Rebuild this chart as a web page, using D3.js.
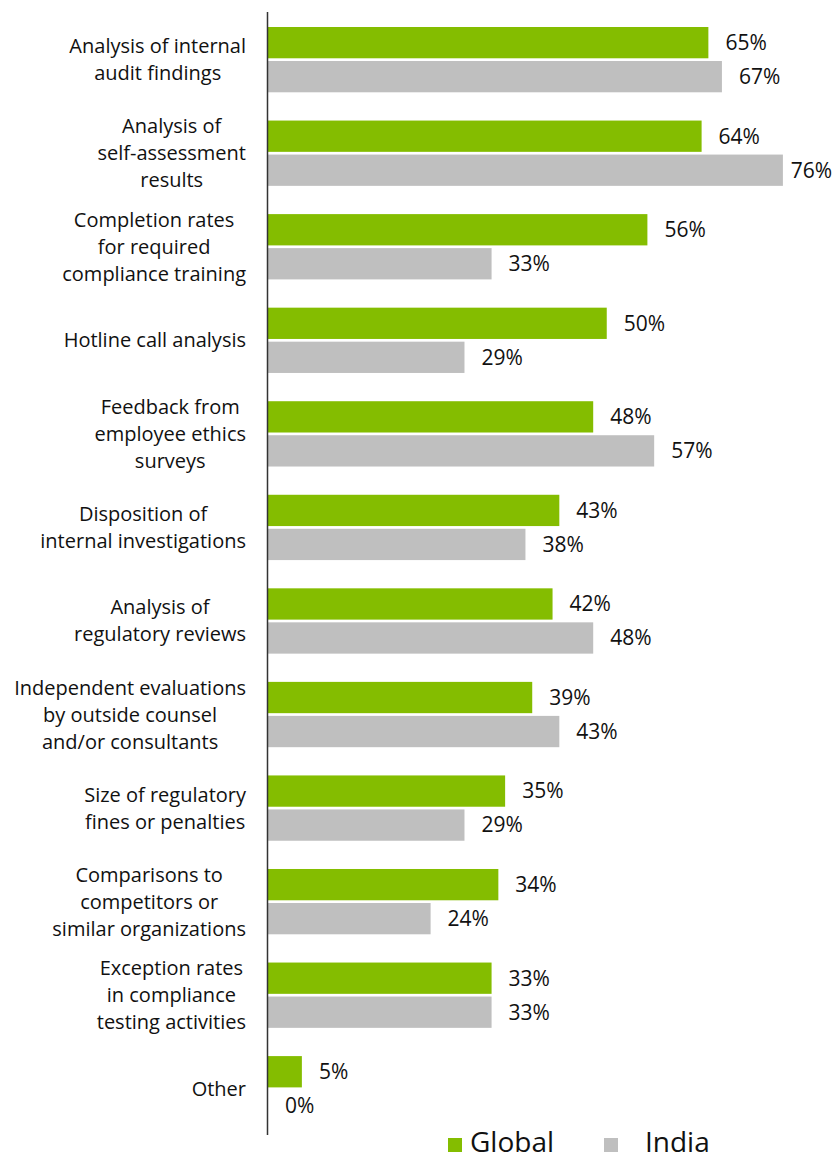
<!DOCTYPE html>
<html>
<head>
<meta charset="utf-8">
<script src="https://cdn.jsdelivr.net/npm/d3@7"></script>
<style>
  html, body { margin: 0; padding: 0; background: #fff; }
  svg { display: block; font-family: "Open Sans", "Noto Sans", sans-serif; }
</style>
</head>
<body>
<svg id="chart" width="835" height="1155"></svg>
<script>
// Survey responses: share of respondents, per measure
const categories = [
  ["Analysis of internal", "audit findings"],
  ["Analysis of", "self-assessment", "results"],
  ["Completion rates", "for required", "compliance training"],
  ["Hotline call analysis"],
  ["Feedback from", "employee ethics", "surveys"],
  ["Disposition of", "internal investigations"],
  ["Analysis of", "regulatory reviews"],
  ["Independent evaluations", "by outside counsel", "and/or consultants"],
  ["Size of regulatory", "fines or penalties"],
  ["Comparisons to", "competitors or", "similar organizations"],
  ["Exception rates", "in compliance", "testing activities"],
  ["Other"]
];
const seriesNames = ["Global", "India"];
const globalValues = [65, 64, 56, 50, 48, 43, 42, 39, 35, 34, 33, 5];
const indiaValues  = [67, 76, 33, 29, 57, 38, 48, 43, 29, 24, 33, 0];
const colors = ["#84bd00", "#bfbfbf"];

const W = 835;
const svg = d3.select("#chart");
const axisX = 267.5;

const keys = categories.map((c, i) => i);
const y = d3.scaleBand()
  .domain(keys)
  .range([27, 1121.4])
  .paddingInner(0.302)
  .paddingOuter(0);

const ySub = d3.scaleBand()
  .domain(seriesNames)
  .range([0, y.bandwidth()])
  .paddingInner(0.08);

const x = d3.scaleLinear().domain([0, 100]).range([268, 268 + 677.5]);

const rows = keys.map(i => ({
  i,
  label: categories[i],
  vals: [globalValues[i], indiaValues[i]]
}));

const g = svg.append("g");

const groups = g.selectAll("g.row")
  .data(rows)
  .join("g")
  .attr("class", "row")
  .attr("transform", d => `translate(0,${y(d.i)})`);

// Bars
groups.selectAll("rect")
  .data(d => d.vals.map((v, s) => ({ v, s })))
  .join("rect")
  .attr("x", x(0))
  .attr("y", d => ySub(seriesNames[d.s]))
  .attr("width", d => x(d.v) - x(0))
  .attr("height", ySub.bandwidth())
  .attr("fill", d => colors[d.s]);

// Value labels, kept inside the right edge
groups.selectAll("text.val")
  .data(d => d.vals.map((v, s) => ({ v, s })))
  .join("text")
  .attr("class", "val")
  .attr("y", d => ySub(seriesNames[d.s]) + ySub.bandwidth() / 2)
  .attr("dy", "0.35em")
  .attr("font-size", 21)
  .attr("fill", "#111")
  .text(d => d.v + "%")
  .attr("x", function (d) {
    const w = this.getComputedTextLength();
    return Math.min(x(d.v) + 17, W - w - 3);
  });

// Category labels: lines centred within a block that is right-aligned to the axis
const lineH = 27;
const labelRight = 246;
groups.each(function (d) {
  const grp = d3.select(this);
  const t = grp.append("text")
    .attr("font-size", 20)
    .attr("fill", "#111")
    .attr("text-anchor", "middle");
  const n = d.label.length;
  const cy = y.bandwidth() / 2;
  d.label.forEach((line, k) => {
    t.append("tspan")
      .attr("y", cy + (k - (n - 1) / 2) * lineH)
      .attr("dy", "0.35em")
      .text(line);
  });
  let maxW = 0;
  t.selectAll("tspan").each(function () {
    maxW = Math.max(maxW, this.getComputedTextLength());
  });
  t.selectAll("tspan").attr("x", labelRight - maxW / 2);
});

// Vertical axis line
svg.append("line")
  .attr("x1", axisX).attr("x2", axisX)
  .attr("y1", 12).attr("y2", 1135)
  .attr("stroke", "#333")
  .attr("stroke-width", 1.5);

// Legend
const legend = svg.append("g");
const legendPos = [{ sx: 448, tx: 470 }, { sx: 604, tx: 645 }];
seriesNames.forEach((name, s) => {
  legend.append("rect")
    .attr("x", legendPos[s].sx).attr("y", 1138)
    .attr("width", 14).attr("height", 14)
    .attr("fill", colors[s]);
  legend.append("text")
    .attr("x", legendPos[s].tx).attr("y", 1152)
    .attr("font-size", 28)
    .attr("fill", "#111")
    .text(name);
});
</script>
</body>
</html>
